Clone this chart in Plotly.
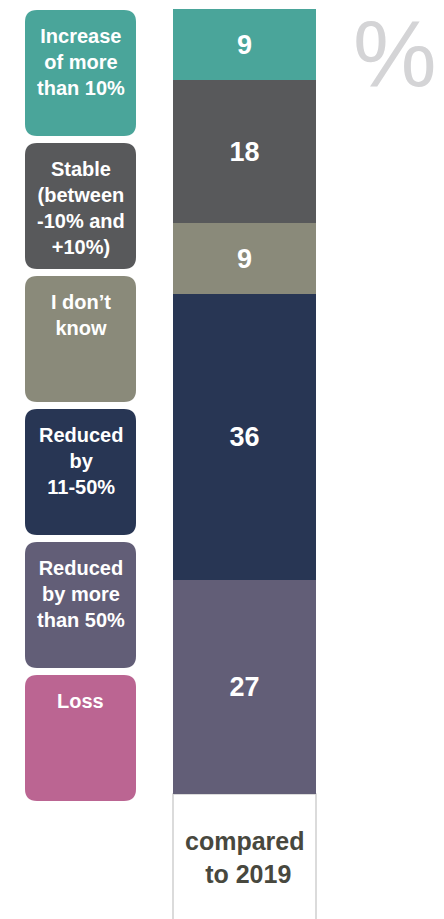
import plotly.graph_objects as go

# ---- data ----
categories = ["Increase of more than 10%", "Stable (between -10% and +10%)", "I don’t know",
              "Reduced by 11-50%", "Reduced by more than 50%", "Loss"]
box_labels = ["Increase<br>of more<br>than 10%", "Stable<br>(between<br>-10% and<br>+10%)",
              "I don’t<br>know", "Reduced<br>by<br>11-50%", "Reduced<br>by more<br>than 50%", "Loss"]
values = [9, 18, 9, 36, 27, 0]
colors = ["#4AA59A", "#58595B", "#8A8A7A", "#283654", "#625E77", "#BB6592"]
bar_label = "compared<br> to 2019"
unit_label = "%"

W, H = 444, 919
# pixel geometry of the bar region
bar_left, bar_right = 173, 316
y_top_px, y_zero_px = 9, 794
total = sum(values)
ppu = (y_zero_px - y_top_px) / total
y_min = -(H - y_zero_px) / ppu
y_max = total + y_top_px / ppu
bw = bar_right - bar_left
x_min = -0.5 - bar_left / bw
x_max = x_min + W / bw

fig = go.Figure()
# stack bottom-up: reverse order
for cat, v, c in reversed(list(zip(categories, values, colors))):
    fig.add_trace(go.Bar(
        x=[0], y=[v], width=[1], name=cat,
        marker=dict(color=c, line=dict(width=0)),
        text=[f"<b>{v}</b>" if v > 0 else ""],
        textposition="inside", insidetextanchor="middle",
        textfont=dict(family="Liberation Sans, Arial", size=27, color="white"),
        hoverinfo="skip",
    ))

def px(xp):
    return xp / W

def py(yp):
    return 1 - yp / H

def rounded_path(x0, y0, x1, y1, r):
    def P(x, y):
        return f"{px(x):.5f},{py(y):.5f}"
    return (f"M {P(x0 + r, y0)} L {P(x1 - r, y0)} Q {P(x1, y0)} {P(x1, y0 + r)} "
            f"L {P(x1, y1 - r)} Q {P(x1, y1)} {P(x1 - r, y1)} "
            f"L {P(x0 + r, y1)} Q {P(x0, y1)} {P(x0, y1 - r)} "
            f"L {P(x0, y0 + r)} Q {P(x0, y0)} {P(x0 + r, y0)} Z")

shapes = []
annotations = []
box_x0, box_x1 = 25, 136
box_top0, box_pitch, box_h = 10, 133, 126
for i, (lab, c) in enumerate(zip(box_labels, colors)):
    t = box_top0 + i * box_pitch
    shapes.append(dict(type="path", xref="paper", yref="paper",
                       path=rounded_path(box_x0, t, box_x1, t + box_h, 12),
                       fillcolor=c, line=dict(width=0), layer="below"))
    annotations.append(dict(xref="paper", yref="paper", x=px((box_x0 + box_x1) / 2),
                            y=py(t + 13), xanchor="center", yanchor="top",
                            text=f"<b>{lab}</b>", showarrow=False, align="center",
                            font=dict(family="Liberation Sans, Arial", size=20, color="white")))

# white box under bar
shapes.append(dict(type="rect", xref="x", yref="y", x0=-0.5, x1=0.5, y0=y_min - 5, y1=0,
                   fillcolor="white", line=dict(color="#D0D0D0", width=1.5), layer="below"))
annotations.append(dict(xref="x", yref="y", x=0, y=-(857 - y_zero_px) / ppu,
                        xanchor="center", yanchor="middle", text=f"<b>{bar_label}</b>",
                        showarrow=False, align="center",
                        font=dict(family="Liberation Sans, Arial", size=25, color="#48483E")))
annotations.append(dict(xref="paper", yref="paper", x=px(394.5), y=py(53.5),
                        xanchor="center", yanchor="middle", text=unit_label, showarrow=False,
                        borderpad=0,
                        font=dict(family="Liberation Sans, Arial", size=94, color="#D4D4D6")))

fig.update_layout(
    width=W, height=H, margin=dict(l=0, r=0, t=0, b=0),
    barmode="stack", bargap=0, showlegend=False,
    paper_bgcolor="white", plot_bgcolor="white",
    xaxis=dict(range=[x_min, x_max], visible=False, fixedrange=True),
    yaxis=dict(range=[y_min, y_max], visible=False, fixedrange=True),
    shapes=shapes, annotations=annotations,
)
fig.write_html("out.html", config={"displayModeBar": False, "staticPlot": True},
               post_script="document.body.style.margin='0';document.body.style.overflow='hidden';")
